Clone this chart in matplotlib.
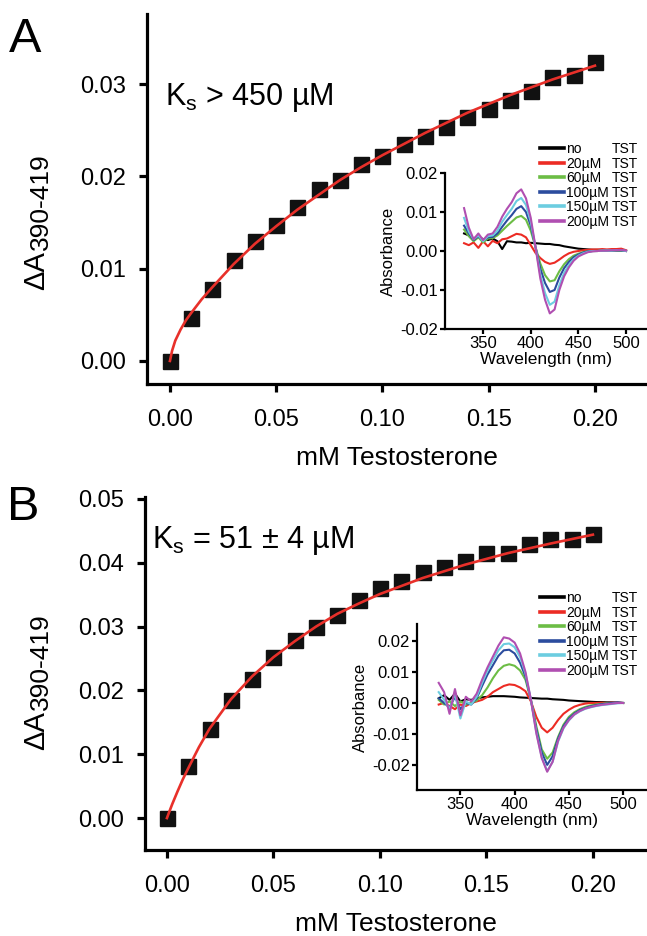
import matplotlib
matplotlib.use('Agg')
import matplotlib.pyplot as plt
from matplotlib.lines import Line2D

plt.rcParams['font.family'] = ['Liberation Sans', 'DejaVu Sans']
plt.rcParams['mathtext.fontset'] = 'custom'
plt.rcParams['mathtext.rm'] = 'Liberation Sans'
plt.rcParams['mathtext.it'] = 'Liberation Sans'

# ---- main titration data (mM testosterone vs dA390-419) ----
conc = [0.00, 0.01, 0.02, 0.03, 0.04, 0.05, 0.06, 0.07, 0.08, 0.09, 0.10,
        0.11, 0.12, 0.13, 0.14, 0.15, 0.16, 0.17, 0.18, 0.19, 0.20]
dA_a = [0.0000, 0.0047, 0.0078, 0.0109, 0.0130, 0.0147, 0.0167, 0.0186, 0.0196, 0.0213, 0.0222,
        0.0235, 0.0244, 0.0254, 0.0264, 0.0273, 0.0283, 0.0293, 0.0308, 0.0310, 0.0324]
dA_b = [0.0000, 0.0082, 0.0139, 0.0185, 0.0218, 0.0252, 0.0279, 0.0299, 0.0318, 0.0342, 0.0361,
        0.0371, 0.0385, 0.0393, 0.0403, 0.0416, 0.0415, 0.0430, 0.0437, 0.0437, 0.0445]

# fitted curves
fit_x = [0.0, 0.001, 0.0025, 0.005, 0.0075, 0.01, 0.015, 0.02, 0.03, 0.04, 0.05, 0.06, 0.07,
         0.08, 0.09, 0.10, 0.12, 0.14, 0.16, 0.18, 0.20]
fit_a = [0.0, 0.0011, 0.0022, 0.0034, 0.0044, 0.0052, 0.0067, 0.0080, 0.0105, 0.0127, 0.0146,
         0.0164, 0.0180, 0.0196, 0.0210, 0.0223, 0.0247, 0.0269, 0.0288, 0.0305, 0.0320]
fit_b = [0.0, 0.0009, 0.0022, 0.0042, 0.0061, 0.0078, 0.0111, 0.0140, 0.0186, 0.0222, 0.0252,
         0.0277, 0.0300, 0.0320, 0.0336, 0.0351, 0.0376, 0.0397, 0.0415, 0.0430, 0.0444]

# ---- difference spectra (insets) ----
wl = [330, 335, 340, 345, 350, 355, 360, 365, 370, 375, 380, 385, 390, 395, 400, 405, 410,
      415, 420, 425, 430, 435, 440, 445, 450, 455, 460, 465, 470, 475, 480, 485, 490, 495, 500]
spec_labels = ['no', '20\u00b5M', '60\u00b5M', '100\u00b5M', '150\u00b5M', '200\u00b5M']
spec_colors = ['#000000', '#ec2b24', '#6cbd45', '#2b4c9e', '#6ccde0', '#b04fb1']

spec_a = [
    [0.0045, 0.0040, 0.0032, 0.0038, 0.0030, 0.0028, 0.0032, 0.0025, 0.0005, 0.0025, 0.0024, 0.0022,
     0.0022, 0.0020, 0.0021, 0.0020, 0.0019, 0.0018, 0.0018, 0.0016, 0.0015, 0.0012, 0.0010, 0.0008,
     0.0006, 0.0005, 0.0004, 0.0003, 0.0003, 0.0002, 0.0002, 0.0001, 0.0001, 0.0001, 0.0000],
    [0.0020, 0.0015, 0.0022, 0.0008, 0.0025, 0.0012, 0.0026, 0.0020, 0.0030, 0.0032, 0.0038, 0.0044,
     0.0042, 0.0035, 0.0015, -0.0005, -0.0018, -0.0028, -0.0033, -0.0030, -0.0022, -0.0013, -0.0006,
     -0.0002, 0.0000, 0.0002, 0.0003, 0.0004, 0.0004, 0.0005, 0.0004, 0.0005, 0.0005, 0.0006, 0.0002],
    [0.0055, 0.0038, 0.0025, 0.0035, 0.0022, 0.0032, 0.0033, 0.0040, 0.0052, 0.0064, 0.0075, 0.0086,
     0.0090, 0.0080, 0.0052, 0.0010, -0.0032, -0.0062, -0.0078, -0.0075, -0.0052, -0.0034, -0.0021,
     -0.0012, -0.0007, -0.0003, -0.0001, 0.0000, 0.0000, 0.0001, 0.0001, 0.0001, 0.0002, 0.0002, 0.0000],
    [0.0065, 0.0045, 0.0028, 0.0038, 0.0026, 0.0035, 0.0036, 0.0045, 0.0062, 0.0078, 0.0092, 0.0108,
     0.0115, 0.0100, 0.0065, 0.0010, -0.0045, -0.0082, -0.0105, -0.0100, -0.0068, -0.0044, -0.0028,
     -0.0016, -0.0009, -0.0004, -0.0001, 0.0000, 0.0000, 0.0001, 0.0001, 0.0001, 0.0002, 0.0002, 0.0000],
    [0.0085, 0.0050, 0.0030, 0.0040, 0.0025, 0.0038, 0.0040, 0.0052, 0.0075, 0.0092, 0.0108, 0.0128,
     0.0136, 0.0118, 0.0075, 0.0010, -0.0060, -0.0108, -0.0138, -0.0130, -0.0088, -0.0056, -0.0036,
     -0.0021, -0.0012, -0.0006, -0.0002, 0.0000, 0.0000, 0.0001, 0.0001, 0.0001, 0.0002, 0.0002, 0.0000],
    [0.0110, 0.0060, 0.0030, 0.0045, 0.0028, 0.0042, 0.0045, 0.0062, 0.0088, 0.0108, 0.0125, 0.0148,
     0.0158, 0.0135, 0.0085, 0.0010, -0.0070, -0.0125, -0.0160, -0.0150, -0.0100, -0.0065, -0.0042,
     -0.0025, -0.0014, -0.0008, -0.0003, -0.0001, 0.0000, 0.0001, 0.0001, 0.0002, 0.0002, 0.0003, 0.0001],
]
spec_b = [
    [0.0015, 0.0025, 0.0010, 0.0030, 0.0005, 0.0012, 0.0010, 0.0015, 0.0018, 0.0020, 0.0022, 0.0022,
     0.0022, 0.0021, 0.0020, 0.0018, 0.0017, 0.0016, 0.0015, 0.0014, 0.0014, 0.0012, 0.0011, 0.0010,
     0.0008, 0.0007, 0.0006, 0.0005, 0.0004, 0.0003, 0.0003, 0.0002, 0.0002, 0.0001, 0.0000],
    [-0.0005, 0.0000, -0.0010, -0.0020, -0.0005, -0.0010, 0.0000, 0.0005, 0.0010, 0.0020, 0.0035, 0.0045,
     0.0055, 0.0060, 0.0058, 0.0050, 0.0038, 0.0005, -0.0045, -0.0080, -0.0095, -0.0080, -0.0055,
     -0.0035, -0.0022, -0.0012, -0.0006, -0.0002, 0.0000, 0.0000, 0.0001, 0.0000, 0.0001, 0.0001, 0.0000],
    [0.0010, -0.0005, 0.0005, -0.0010, 0.0005, -0.0005, 0.0000, 0.0008, 0.0025, 0.0050, 0.0080, 0.0105,
     0.0120, 0.0125, 0.0120, 0.0105, 0.0075, 0.0010, -0.0075, -0.0150, -0.0180, -0.0160, -0.0110,
     -0.0070, -0.0045, -0.0030, -0.0020, -0.0013, -0.0008, -0.0005, -0.0003, -0.0001, 0.0000, 0.0000, 0.0000],
    [0.0015, 0.0000, -0.0015, 0.0020, -0.0020, 0.0000, -0.0005, 0.0015, 0.0055, 0.0092, 0.0122, 0.0152,
     0.0170, 0.0172, 0.0160, 0.0130, 0.0085, 0.0010, -0.0085, -0.0160, -0.0200, -0.0172, -0.0115,
     -0.0075, -0.0050, -0.0034, -0.0023, -0.0016, -0.0011, -0.0007, -0.0004, -0.0002, 0.0000, 0.0002, 0.0000],
    [0.0035, 0.0010, -0.0020, 0.0030, -0.0050, 0.0005, -0.0005, 0.0020, 0.0065, 0.0105, 0.0138, 0.0170,
     0.0190, 0.0192, 0.0180, 0.0148, 0.0095, 0.0010, -0.0095, -0.0175, -0.0220, -0.0190, -0.0125,
     -0.0082, -0.0056, -0.0038, -0.0027, -0.0019, -0.0014, -0.0010, -0.0007, -0.0005, -0.0003, -0.0001, 0.0000],
    [0.0065, 0.0035, -0.0035, 0.0045, -0.0040, 0.0020, 0.0005, 0.0030, 0.0075, 0.0115, 0.0150, 0.0185,
     0.0212, 0.0208, 0.0195, 0.0160, 0.0100, 0.0010, -0.0098, -0.0178, -0.0222, -0.0190, -0.0122,
     -0.0080, -0.0055, -0.0037, -0.0026, -0.0018, -0.0013, -0.0009, -0.0006, -0.0004, -0.0002, 0.0000, 0.0000],
]

W, H = 647, 936
MAIN_LW = 2.3
INSET_LW = 1.6
TICK_FONT = 17
INSET_FONT = 12
LEGEND_FONT = 10


def px_axes(fig, left, top, right, bottom):
    """Add axes from pixel edges (origin top-left)."""
    return fig.add_axes([left / W, 1 - bottom / H, (right - left) / W, (bottom - top) / H])


def style_main(ax):
    for s in ('top', 'right'):
        ax.spines[s].set_visible(False)
    for s in ('left', 'bottom'):
        ax.spines[s].set_linewidth(MAIN_LW)
    ax.tick_params(width=MAIN_LW, length=6, labelsize=TICK_FONT)
    ax.tick_params(axis='x', pad=12)
    ax.tick_params(axis='y', pad=9)


def style_inset(ax):
    for s in ('top', 'right'):
        ax.spines[s].set_visible(False)
    for s in ('left', 'bottom'):
        ax.spines[s].set_linewidth(INSET_LW)
    ax.tick_params(width=INSET_LW, length=3.6, labelsize=INSET_FONT, pad=1.5)
    ax.patch.set_alpha(0)


def draw_main(ax, y, fit, xlim, ylim, yticks):
    ax.plot(conc, y, 's', color='#111111', ms=10.8, zorder=2)
    ax.plot(fit_x, fit, '-', color='#e8302a', lw=1.9, zorder=3)
    ax.set_xlim(*xlim)
    ax.set_ylim(*ylim)
    ax.set_xticks([0.00, 0.05, 0.10, 0.15, 0.20])
    ax.set_xticklabels(['0.00', '0.05', '0.10', '0.15', '0.20'])
    ax.set_yticks(yticks)
    ax.set_yticklabels([f'{v:.2f}' for v in yticks])
    ax.set_xlabel('mM Testosterone', fontsize=19, labelpad=11)
    style_main(ax)


def draw_inset(ax, spectra, ylim, legend_top):
    for vals, lab, col in zip(spectra, spec_labels, spec_colors):
        ax.plot(wl, vals, '-', color=col, lw=1.5, label=lab)
    ax.set_xlim(310, 522)
    ax.set_ylim(*ylim)
    ax.set_xticks([350, 400, 450, 500])
    yticks = [-0.02, -0.01, 0.00, 0.01, 0.02]
    ax.set_yticks(yticks)
    ax.set_yticklabels([f'{v:.2f}' for v in yticks])
    ax.set_xlabel('Wavelength (nm)', fontsize=12.5, labelpad=1)
    ax.set_ylabel('Absorbance', fontsize=12, labelpad=3)
    style_inset(ax)
    # legend: label column + "TST" column
    handles = [Line2D([], [], color=c, lw=2.6) for c in spec_colors]
    blanks = [Line2D([], [], color='none') for _ in spec_colors]
    ax.legend(handles + blanks, spec_labels + ['TST'] * len(spec_labels), ncol=2,
              loc='upper right', bbox_to_anchor=(638 / W, 1 - legend_top / H),
              bbox_transform=ax.figure.transFigure, frameon=False, fontsize=LEGEND_FONT,
              handlelength=1.7, handletextpad=0.15, columnspacing=-1.65,
              labelspacing=0.04, borderpad=0, borderaxespad=0)


fig = plt.figure(figsize=(W / 100, H / 100), dpi=100)

# panel A
ax_a = px_axes(fig, 147, 14, 647, 384)
draw_main(ax_a, dA_a, fit_a, (-0.0108, 0.2245), (-0.0025, 0.0376), [0.00, 0.01, 0.02, 0.03])
ax_a.text(0.036, 0.753, 'K$_{\\mathregular{s}}$ > 450 \u00b5M', transform=ax_a.transAxes,
          fontsize=22, va='baseline')
ins_a = px_axes(fig, 445, 173, 647, 329)
draw_inset(ins_a, spec_a, (-0.02, 0.02), 142)

# panel B
ax_b = px_axes(fig, 145, 497, 647, 850)
draw_main(ax_b, dA_b, fit_b, (-0.0103, 0.2254), (-0.0050, 0.0503), [0.00, 0.01, 0.02, 0.03, 0.04, 0.05])
ax_b.text(0.014, 0.855, 'K$_{\\mathregular{s}}$ = 51 \u00b1 4 \u00b5M', transform=ax_b.transAxes,
          fontsize=22, va='baseline')
ins_b = px_axes(fig, 417, 624, 647, 790)
draw_inset(ins_b, spec_b, (-0.0281, 0.0255), 591)

# y labels: "ΔA" followed by a lowered, nearly full-size "390-419"
fig.canvas.draw()
for x_px, bottom_px in ((36, 290), (36, 750)):
    t = fig.text(x_px / W, 1 - bottom_px / H, '\u0394A', fontsize=21, rotation=90,
                 ha='center', va='bottom')
    bb = t.get_window_extent(renderer=fig.canvas.get_renderer())
    fig.text((bb.x1 + 3) / W, (bb.y1 + 1) / H, '390-419', fontsize=19, rotation=90,
             ha='right', va='bottom')

fig.text(25 / W, 1 - 40 / H, 'A', fontsize=35, ha='center', va='center')
fig.text(23 / W, 1 - 507 / H, 'B', fontsize=35, ha='center', va='center')

fig.savefig('out.png', dpi=100)
